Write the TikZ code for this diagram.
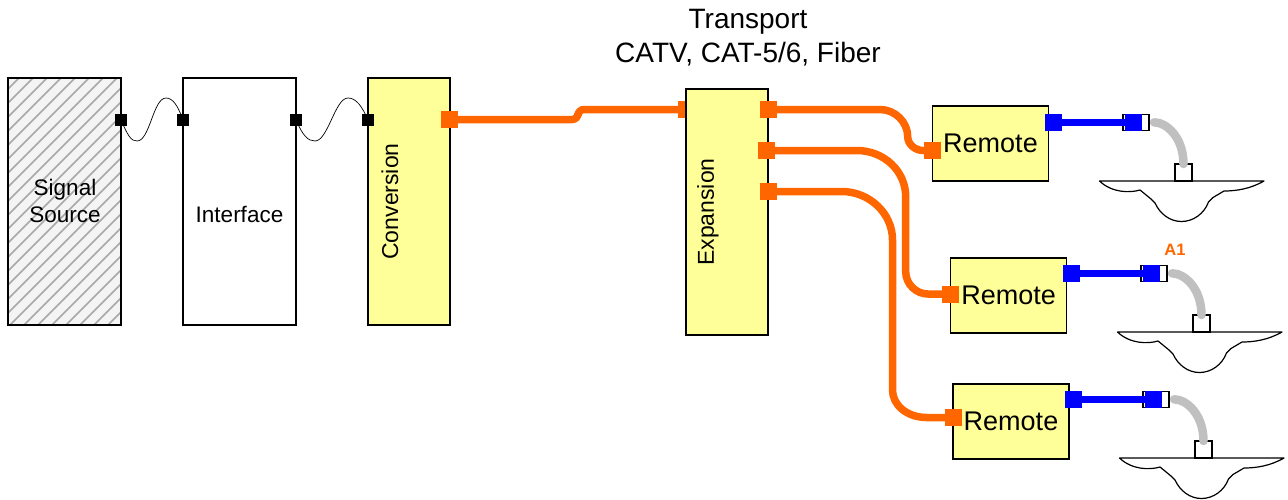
\documentclass[tikz,border=0pt]{standalone}
\usepackage{fontspec}
\setmainfont{Liberation Sans}
\newcommand{\fsz}[1]{\fontsize{#1}{#1}\selectfont}
\definecolor{myyellow}{HTML}{FFFF99}
\definecolor{myorange}{HTML}{FF6600}
\definecolor{mygray}{HTML}{C0C0C0}
\definecolor{hatchbg}{HTML}{F4F4F4}
\definecolor{hatchln}{HTML}{A8A8A8}
\tikzset{
  x=1pt,y=-1pt,
  block/.style={draw=black,line width=1.1pt,minimum width=#1,inner sep=0pt,outer sep=0pt},
  tall/.style={block=#1,minimum height=247pt},
  label text/.style={inner sep=0pt,outer sep=0pt,font=\fsz{22.5},align=center},
  side text/.style={rotate=90,inner sep=0pt,outer sep=0pt,font=\fsz{23}},
  remotebox/.style={draw=black,line width=1.1pt,fill=myyellow,minimum width=116pt,minimum height=75pt,inner sep=0pt,outer sep=0pt,font=\fsz{27}},
  blackport/.style={fill=black,minimum size=12pt,inner sep=0pt,outer sep=0pt},
  orangeport/.style={fill=myorange,minimum size=17pt,inner sep=0pt,outer sep=0pt},
  blueport/.style={fill=blue,minimum size=17pt,inner sep=0pt,outer sep=0pt},
  wire/.style={draw=black,line width=0.7pt},
  orangeline/.style={draw=myorange,line width=7.5pt},
  blueline/.style={draw=blue,line width=7.2pt},
  grayline/.style={draw=mygray,line width=8.5pt,line cap=round},
  connbox/.style={draw=black,fill=white,line width=1.1pt,minimum width=26pt,minimum height=16.5pt,inner sep=0pt,outer sep=0pt},
  feedbox/.style={draw=black,fill=white,line width=1.1pt,minimum width=17pt,minimum height=17pt,inner sep=0pt,outer sep=0pt},
  dishshape/.style={draw=black,line width=1.2pt,fill=white,line join=round},
}
\begin{document}
\begin{tikzpicture}
\useasboundingbox (0,0) rectangle (1288,499);
% hatched source
\fill[hatchbg] (8,78) rectangle (121,325);
\begin{scope}
  \clip (8,78) rectangle (121,325);
  \foreach \k in {0,...,27} {
    \draw[hatchln,line width=1.6pt] (\k*14-4,73) -- ++(-260,260);
  }
\end{scope}
\node[tall=113pt] (src) at (64.5,201.5) {};
\node[label text] (srct) at (65,201) {Signal\\[4.7pt]Source};
\node[tall=113pt,fill=white] (ifc) at (239.5,201.5) {};
\node[label text] (ifct) at (239.5,214) {Interface};
\node[tall=82pt,fill=myyellow] (cnv) at (409,201.5) {};
\node[side text] (cnvt) at (390,201.5) {Conversion};
% wires and black ports
\node[blackport] (b1) at (121,120) {};
\node[blackport] (b2) at (183,120) {};
\node[blackport] (b3) at (296,120) {};
\node[blackport] (b4) at (368,120) {};
\draw[wire] (b1.center) .. controls (128,136) and (131,141) .. (137,141) .. controls (150,141) and (153,98) .. (166,98) .. controls (173,98) and (178,106) .. (b2.center);
\draw[wire] (b3.center) .. controls (303,136) and (308,141) .. (315,141) .. controls (328,141) and (335,98) .. (348,98) .. controls (356,98) and (362,106) .. (b4.center);
% transport
\node[orangeport] (o0) at (449.5,119.5) {};
\node[orangeport] (o1) at (686,109.5) {};
\draw[orangeline,rounded corners=6pt] (o0.center) -- (578,119.5) -- (578,109.5) -- (o1.center);
\node[block=82pt,minimum height=246pt,fill=myyellow] (exp) at (727,212) {};
\node[side text] (expt) at (708,212) {Expansion};
\node[align=center,font=\fsz{28},inner sep=0pt] (tr) at (748,37.5) {Transport\\[5.6pt]CATV, CAT-5/6, Fiber};
\node[font=\bfseries\fsz{16.5},text=myorange,inner sep=0pt] (a1) at (1175,250) {A1};
% expansion outputs
\node[orangeport] (e1) at (768.5,109.5) {};
\node[orangeport] (e2) at (766.5,150.5) {};
\node[orangeport] (e3) at (768.5,191.5) {};
% remotes
\node[remotebox] (r1) at (990.5,143.5) {Remote};
\node[remotebox] (r2) at (1008.7,295.5) {Remote};
\node[remotebox] (r3) at (1011,421.5) {Remote};
\node[orangeport] (i1) at (932.5,150.5) {};
\node[orangeport] (i2) at (950.5,294) {};
\node[orangeport] (i3) at (953.5,417.5) {};
\draw[orangeline] (e1.center) -- (880,109.5) .. controls (895,109.5) and (907.7,122) .. (907.7,136.7)
   .. controls (907.7,144) and (915,150.5) .. (923,150.5) -- (i1.center);
\draw[orangeline] (e2.center) -- (856.7,150.5) .. controls (884,150.5) and (905.7,171) .. (905.7,196.7)
   -- (905.7,271.7) .. controls (905.7,284) and (916,294) .. (928,294) -- (i2.center);
\draw[orangeline] (e3.center) -- (841.7,191.5) .. controls (869,191.5) and (892.5,213) .. (892.5,240)
   -- (892.5,390) .. controls (892.5,405) and (907,417.5) .. (926.7,417.5) -- (i3.center);
% outputs and antennas
\foreach \i/\dx/\dy in {1/0/0,2/18/151,3/20/277} {
  \begin{scope}[shift={(\dx,\dy)}]
    \draw[dishshape] (1264,181) .. controls (1250,189) and (1236,191) .. (1224,191)
       -- (1213,197.5) -- (1208.5,202) .. controls (1204,214) and (1193,221.5) .. (1181.5,221.5)
       .. controls (1170,221.5) and (1160,214) .. (1155,203) -- (1151,199) -- (1140,190)
       .. controls (1130,193) and (1112,193) .. (1099.5,181) -- cycle;
    \node[feedbox] (f\i) at (1183.5,172.5) {};
    \node[connbox] (c\i) at (1136,122.3) {};
    \node[blueport] (p\i) at (1053.5,122.5) {};
    \node[blueport] (q\i) at (1133.5,122.5) {};
    \draw[blueline] (p\i.center) -- (q\i.center);
    \draw[grayline,shorten <=5pt] (c\i.east) .. controls +(18,0) and +(0,-26) .. (f\i.north);
  \end{scope}
}
\end{tikzpicture}
\end{document}
